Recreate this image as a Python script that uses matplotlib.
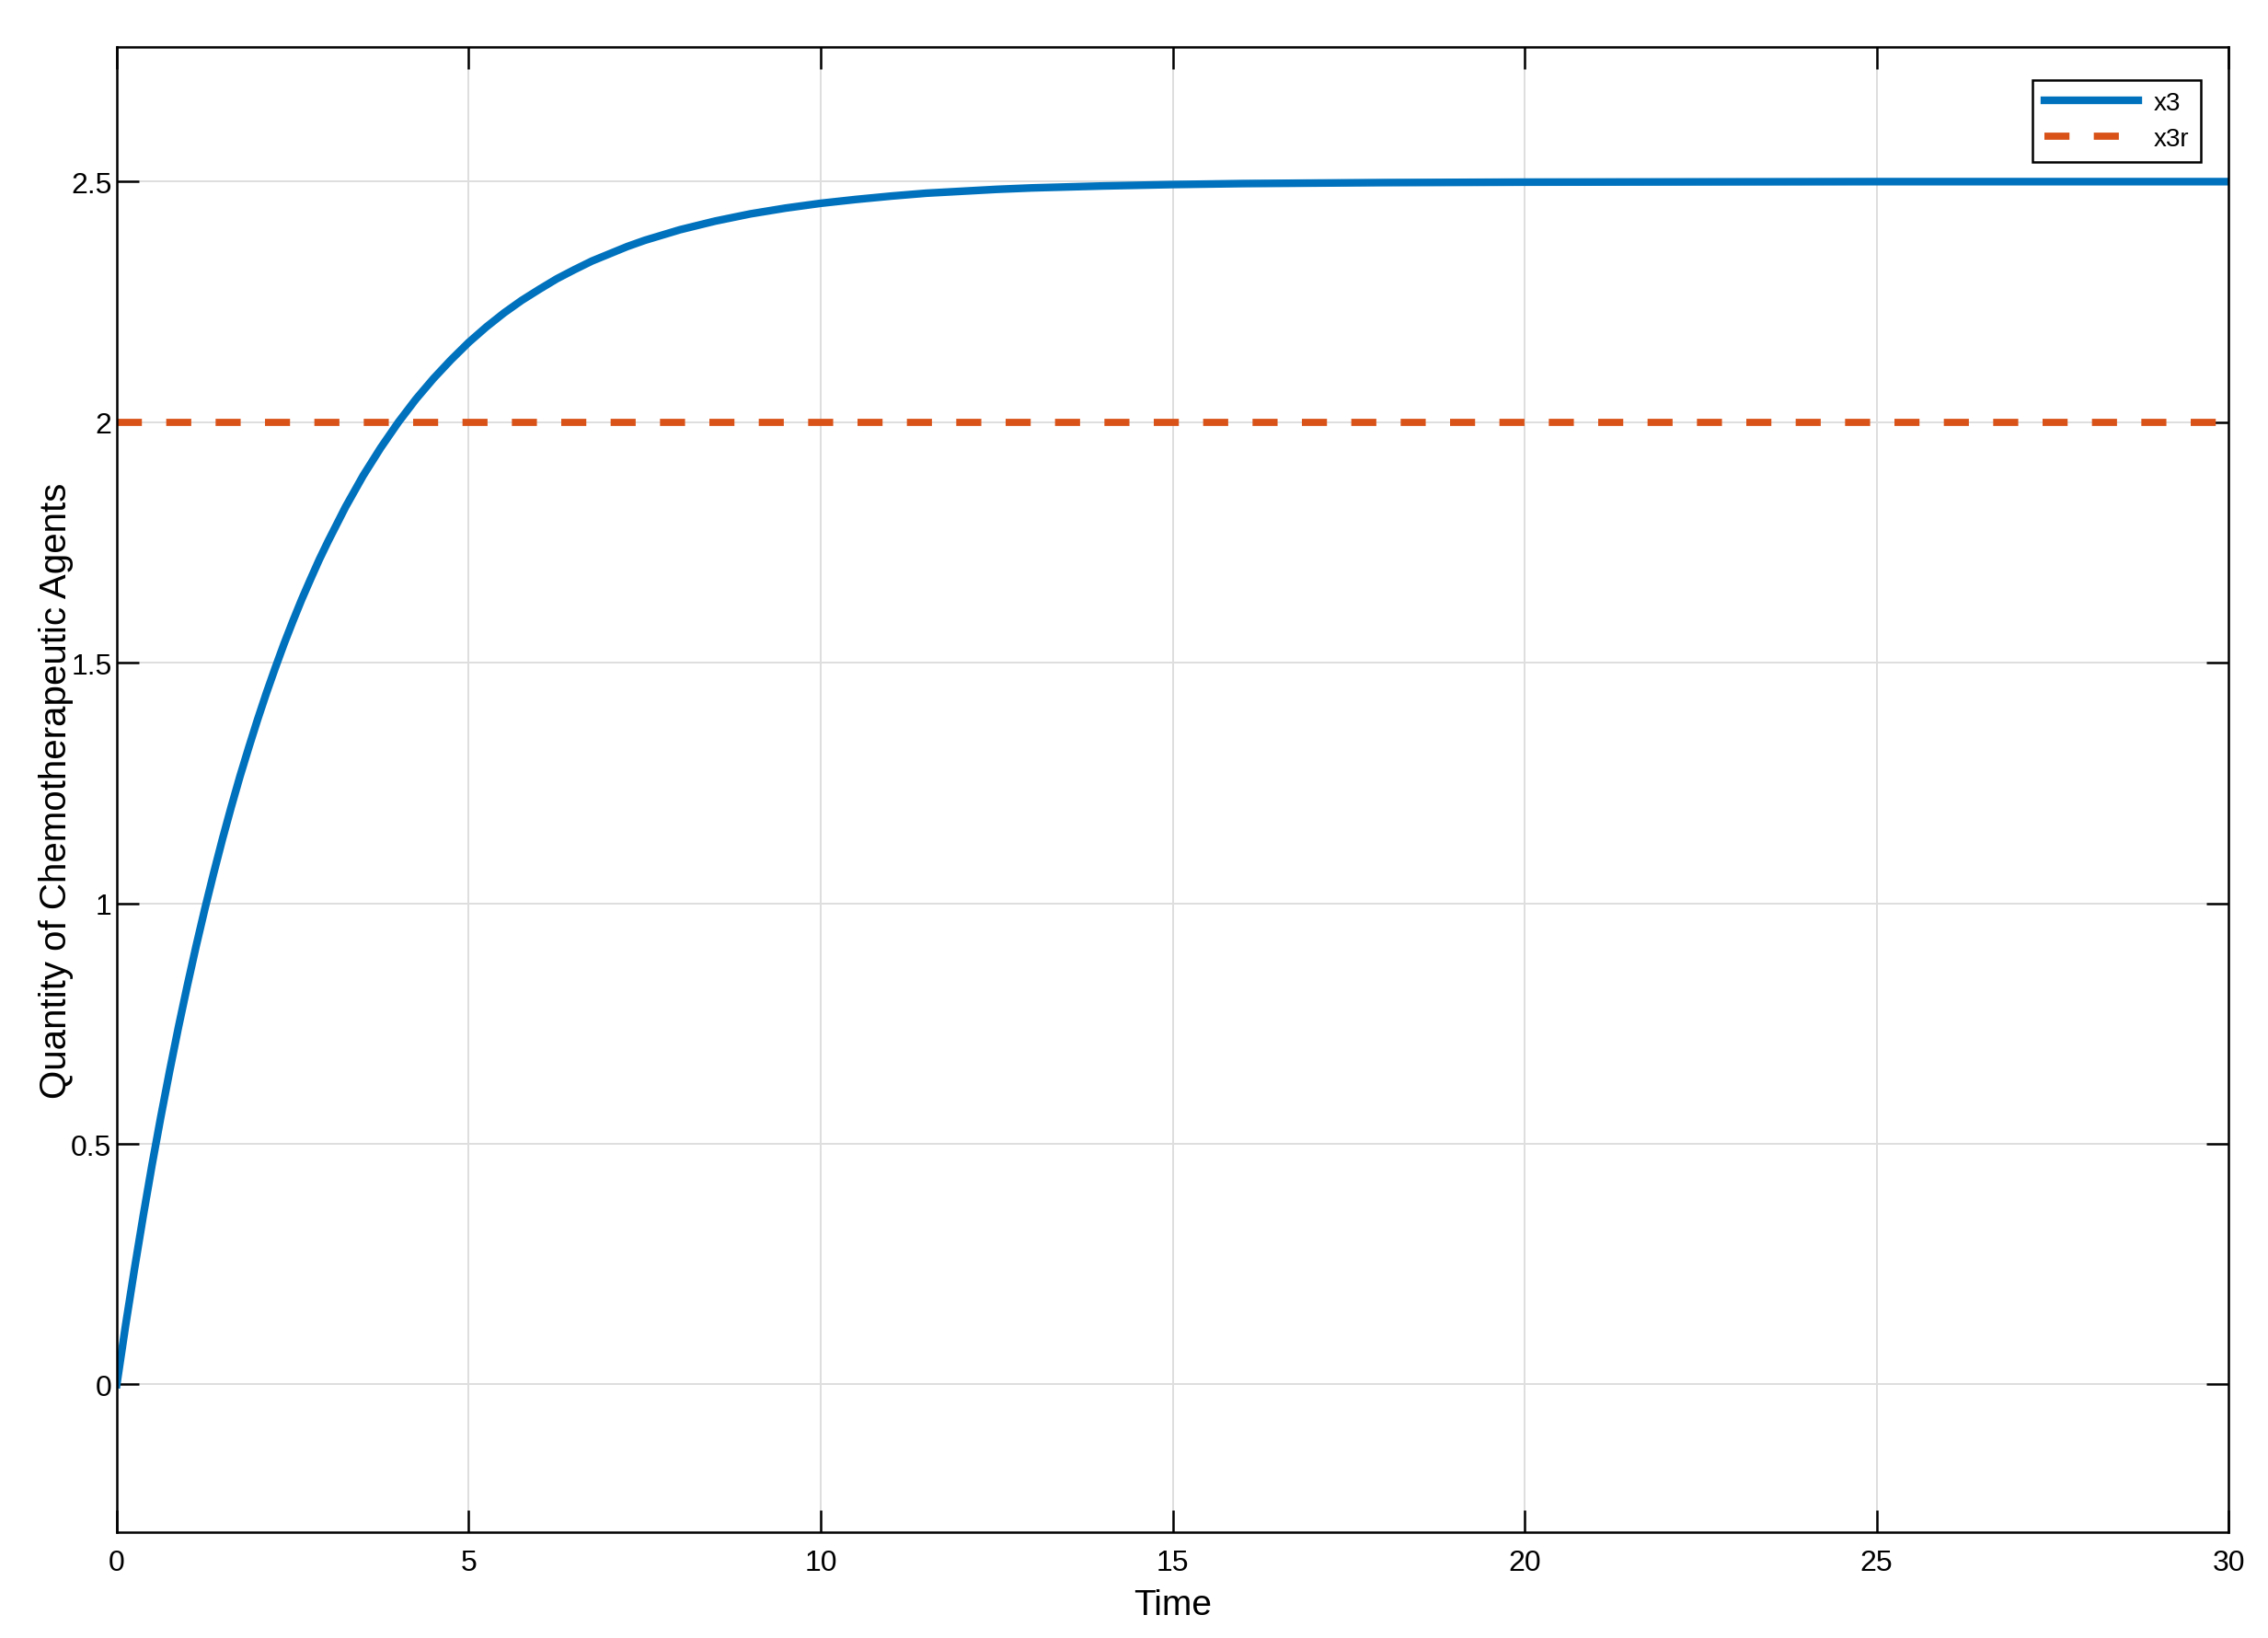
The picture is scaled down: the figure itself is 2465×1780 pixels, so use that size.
import matplotlib
matplotlib.use('Agg')
import matplotlib.pyplot as plt

# values
t = [0, 0.125, 0.25, 0.375, 0.5, 0.625, 0.75, 0.875, 1, 1.125, 1.25, 1.375,
     1.5, 1.625, 1.75, 1.875, 2, 2.125, 2.25, 2.375, 2.5, 2.625, 2.75, 2.875,
     3, 3.25, 3.5, 3.75, 4, 4.25, 4.5, 4.75, 5, 5.25, 5.5, 5.75, 6, 6.25,
     6.5, 6.75, 7, 7.25, 7.5, 7.75, 8, 8.5, 9, 9.5, 10, 10.5, 11, 11.5, 12,
     12.5, 13, 14, 15, 16, 17, 18, 20, 25, 30]
x3 = [0.0, 0.123, 0.239, 0.350, 0.456, 0.556, 0.651, 0.742, 0.828, 0.910,
      0.988, 1.062, 1.133, 1.200, 1.264, 1.324, 1.382, 1.437, 1.489, 1.539,
      1.586, 1.631, 1.673, 1.714, 1.752, 1.824, 1.889, 1.947, 2.000, 2.048,
      2.091, 2.130, 2.166, 2.198, 2.227, 2.253, 2.276, 2.298, 2.317, 2.335,
      2.350, 2.365, 2.378, 2.389, 2.400, 2.418, 2.433, 2.445, 2.455, 2.463,
      2.470, 2.476, 2.480, 2.484, 2.487, 2.491, 2.494, 2.496, 2.497, 2.498,
      2.499, 2.500, 2.500]
t_ref = [0, 30]
x3r = [2, 2]

xticks = [0, 5, 10, 15, 20, 25, 30]
yticks = [0, 0.5, 1, 1.5, 2, 2.5]
ytick_labels = ['0', '0.5', '1', '1.5', '2', '2.5']

plt.rcParams['font.family'] = ['Liberation Sans', 'DejaVu Sans']

fig = plt.figure(figsize=(24.65, 17.81), dpi=100)
ax = fig.add_axes([0.0515, 0.0646, 0.9311, 0.9062])

ax.plot(t, x3, color='#0072BD', lw=6, label='x3', solid_joinstyle='round')
ax.plot(t_ref, x3r, color='#D95319', lw=5.6, dashes=(3.5, 3.4),
        dash_capstyle='butt', label='x3r')

ax.set_xlim(0, 30)
ax.set_ylim(-0.307, 2.78)
ax.set_xticks(xticks)
ax.set_yticks(yticks)
ax.set_yticklabels(ytick_labels)
ax.grid(True, color='#dedede', lw=1.4)
ax.set_axisbelow(True)

ax.tick_params(direction='in', length=17, width=1.8, top=True, right=True,
               labelsize=23, colors='black')
ax.tick_params(axis='y', pad=4)
ax.tick_params(axis='x', pad=13)
for s in ax.spines.values():
    s.set_linewidth(1.8)

ax.set_xlabel('Time', fontsize=28, labelpad=9)
ax.set_ylabel('Quantity of Chemotherapeutic Agents', fontsize=29)
ax.yaxis.set_label_coords(-0.0205, 0.5)

leg = ax.legend(loc='upper right', bbox_to_anchor=(0.987, 0.978),
                borderaxespad=0, fontsize=20, fancybox=False,
                edgecolor='black', framealpha=1, handlelength=3.7,
                handletextpad=0.6, borderpad=0.45, labelspacing=0.45)
leg.get_frame().set_linewidth(1.8)

fig.savefig('out.png', dpi=100)
